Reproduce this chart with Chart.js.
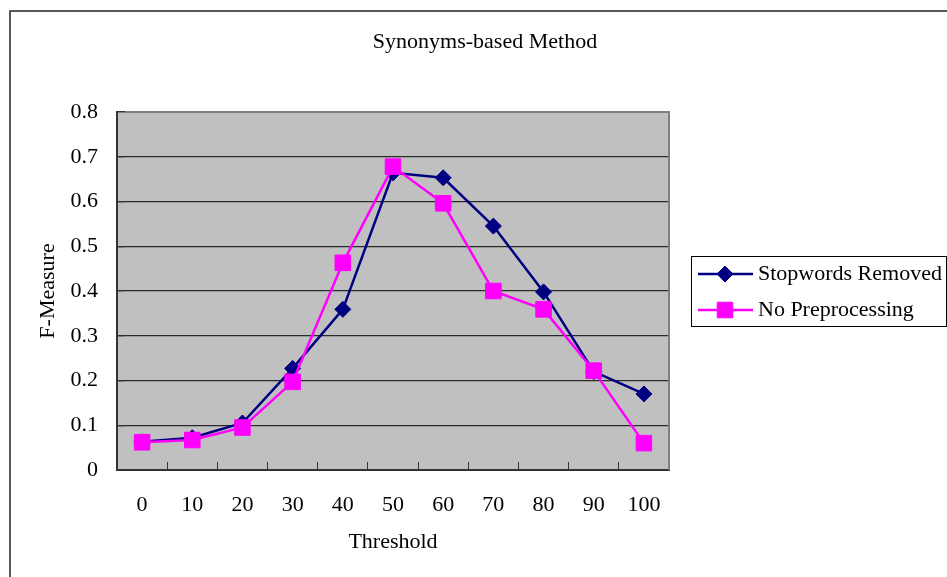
<!DOCTYPE html>
<html>
<head>
<meta charset="utf-8">
<title>Synonyms-based Method</title>
<script src="https://cdn.jsdelivr.net/npm/chart.js@4/dist/chart.umd.min.js"></script>
<style>
html, body { margin: 0; padding: 0; background: #fff; }
#chart { display: block; }
</style>
</head>
<body>
<canvas id="chart" width="947" height="577"></canvas>
<script>
// F-Measure at each threshold, with and without stopword removal
const thresholds = ["0", "10", "20", "30", "40", "50", "60", "70", "80", "90", "100"];
const stopwordsRemoved = [0.063, 0.072, 0.105, 0.227, 0.359, 0.664, 0.653, 0.545, 0.398, 0.220, 0.170];
const noPreprocessing  = [0.062, 0.067, 0.095, 0.197, 0.463, 0.678, 0.596, 0.400, 0.359, 0.222, 0.060];
const seriesNames = ["Stopwords Removed", "No Preprocessing"];

const chartTitle = "Synonyms-based Method";
const xTitle = "Threshold";
const yTitle = "F-Measure";
const yMin = 0, yMax = 0.8, yStep = 0.1;

const FONT = "'Liberation Serif', 'Times New Roman', serif";
Chart.defaults.font.family = FONT;
Chart.defaults.font.size = 22;
Chart.defaults.color = "#000";

function drawMarker(ctx, style, r, x, y) {
  ctx.beginPath();
  if (style === "rectRot") {
    ctx.moveTo(x - r, y);
    ctx.lineTo(x, y - r);
    ctx.lineTo(x + r, y);
    ctx.lineTo(x, y + r);
    ctx.closePath();
  } else {
    const s = Math.SQRT1_2 * r;
    ctx.rect(x - s, y - s, 2 * s, 2 * s);
  }
  ctx.fill();
  ctx.stroke();
}

// grey plot background, outer frame, plot edges and title
const frame = {
  id: "frame",
  beforeDraw(chart) {
    const { ctx, chartArea: a } = chart;
    ctx.save();
    ctx.fillStyle = "#c0c0c0";
    ctx.fillRect(a.left, a.top, a.right - a.left, a.bottom - a.top);
    ctx.strokeStyle = "#222";
    ctx.lineWidth = 1.5;
    ctx.beginPath();
    ctx.moveTo(10, chart.height);
    ctx.lineTo(10, 11);
    ctx.lineTo(chart.width, 11);
    ctx.stroke();
    ctx.restore();
  },
  beforeDatasetsDraw(chart) {
    const { ctx, chartArea: a } = chart;
    ctx.save();
    ctx.strokeStyle = "#808080";
    ctx.lineWidth = 2;
    ctx.beginPath();
    ctx.moveTo(a.left + 8, a.top);
    ctx.lineTo(a.right, a.top);
    ctx.lineTo(a.right, a.bottom);
    ctx.stroke();
    ctx.restore();
  },
  afterDraw(chart) {
    const { ctx } = chart;
    ctx.save();
    ctx.fillStyle = "#000";
    ctx.font = "22px " + FONT;
    ctx.textAlign = "center";
    ctx.textBaseline = "middle";
    ctx.fillText(chartTitle, 485, 42);
    ctx.restore();
  }
};

// boxed legend to the right of the plot
const boxLegend = {
  id: "boxLegend",
  afterDraw(chart) {
    const { ctx, chartArea: a } = chart;
    const cy = (a.top + a.bottom) / 2;
    const left = a.right + 22, top = cy - 35, w = 255, h = 70;
    const rows = [cy - 17, cy + 19];
    ctx.save();
    ctx.strokeStyle = "#000";
    ctx.lineWidth = 1;
    ctx.strokeRect(Math.round(left) + 0.5, Math.round(top) + 0.5, w, h);
    chart.data.datasets.forEach((ds, i) => {
      const y = rows[i];
      ctx.strokeStyle = ds.borderColor;
      ctx.lineWidth = ds.borderWidth;
      ctx.beginPath();
      ctx.moveTo(left + 7, y);
      ctx.lineTo(left + 62, y);
      ctx.stroke();
      ctx.fillStyle = ds.backgroundColor;
      ctx.lineWidth = 1;
      drawMarker(ctx, ds.pointStyle, ds.pointRadius, left + 34, y);
      ctx.fillStyle = "#000";
      ctx.font = "22px " + FONT;
      ctx.textAlign = "left";
      ctx.textBaseline = "middle";
      ctx.fillText(ds.label, left + 67, y);
    });
    ctx.restore();
  }
};

new Chart(document.getElementById("chart"), {
  type: "line",
  data: {
    labels: thresholds,
    datasets: [
      {
        label: seriesNames[0],
        data: stopwordsRemoved,
        borderColor: "#000080",
        backgroundColor: "#000080",
        borderWidth: 2.5,
        pointStyle: "rectRot",
        pointRadius: 8,
        pointBorderWidth: 1,
        tension: 0,
        order: 1
      },
      {
        label: seriesNames[1],
        data: noPreprocessing,
        borderColor: "#ff00ff",
        backgroundColor: "#ff00ff",
        borderWidth: 2.5,
        pointStyle: "rect",
        pointRadius: 11,
        pointBorderWidth: 1,
        tension: 0,
        order: 0
      }
    ]
  },
  options: {
    responsive: false,
    animation: false,
    devicePixelRatio: 1,
    layout: { padding: { top: 112, right: 278, left: 0, bottom: 0 } },
    plugins: {
      legend: { display: false },
      title: { display: false },
      tooltip: { enabled: false }
    },
    scales: {
      x: {
        offset: true,
        grid: { offset: true, drawOnChartArea: false, tickLength: -8, tickColor: "#333" },
        border: { color: "#333", width: 2 },
        ticks: { padding: 30, maxRotation: 0, autoSkip: false },
        title: { display: true, text: xTitle, padding: { top: 22, bottom: 22 } },
        afterFit(scale) { scale.height = 107; }
      },
      y: {
        min: yMin,
        max: yMax,
        grid: { color: "#2a2a2a", lineWidth: 1.3, tickLength: -7, tickColor: "#333" },
        border: { color: "#333", width: 2 },
        ticks: { stepSize: yStep, padding: 26, callback: v => String(+v.toFixed(1)) },
        title: { display: true, text: yTitle, padding: { top: 35, bottom: 35 } },
        afterFit(scale) { scale.width = 117; }
      }
    }
  },
  plugins: [frame, boxLegend]
});
</script>
</body>
</html>
